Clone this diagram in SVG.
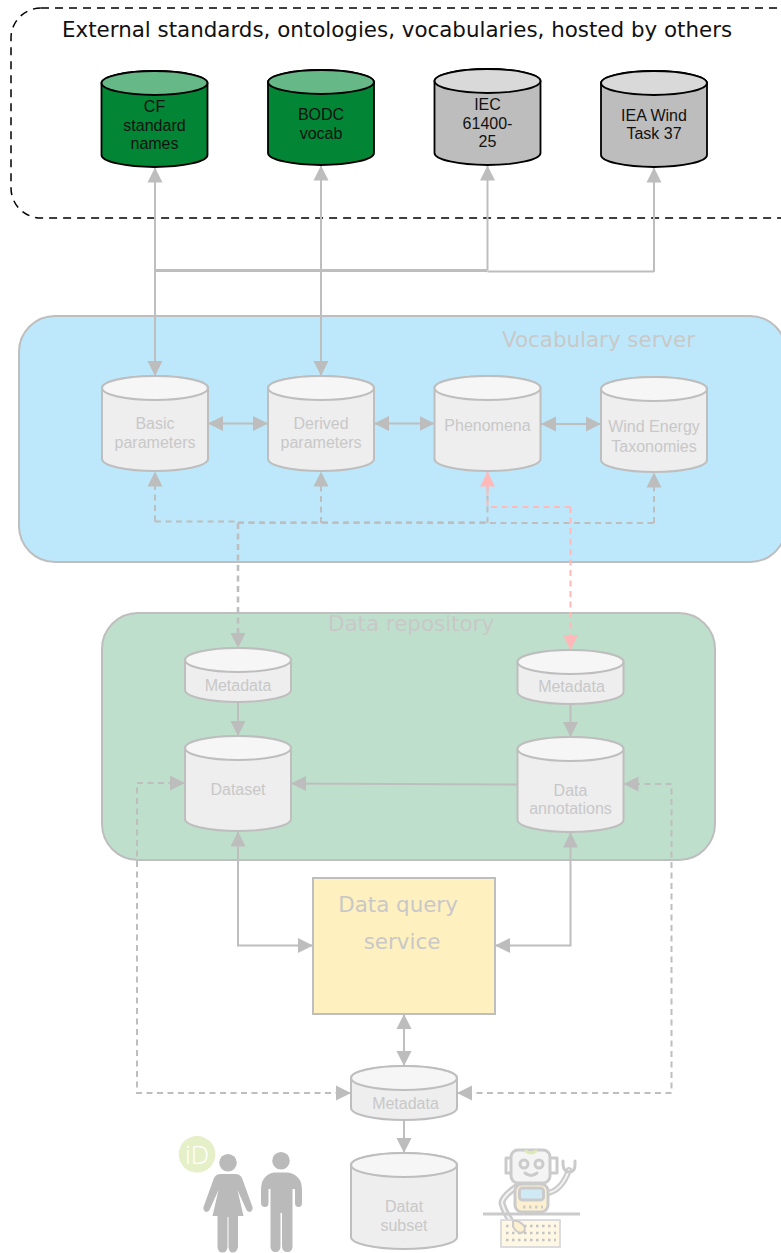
<svg xmlns="http://www.w3.org/2000/svg" width="781" height="1253" viewBox="0 0 781 1253">
<style>
.sv{font-family:"DejaVu Sans",sans-serif;font-size:21.4px}
.lb{font-family:"Liberation Sans",Arial,sans-serif;font-size:16px;text-anchor:middle}
.ink{fill:#111}.dim{fill:#c8c8c8}
.g{fill:#028535;stroke:#000;stroke-width:1.800}.gt{fill:#66b886;stroke:#000;stroke-width:1.800}
.k{fill:#bdbdbd;stroke:#000;stroke-width:1.800}.kt{fill:#d9d9d9;stroke:#000;stroke-width:1.800}
.w{fill:#eee;stroke:#bebebe;stroke-width:2}.wt{fill:#f6f6f6;stroke:#bebebe;stroke-width:2}
.c{fill:none;stroke:#bebebe;stroke-width:2}
.d{stroke-dasharray:6 4.500}
.p{stroke:#ffb9b9}
.h{marker-end:url(#a)}.hh{marker-start:url(#a);marker-end:url(#a)}
.ph{marker-end:url(#ap)}
</style>
<defs>
<marker id="a" markerUnits="userSpaceOnUse" markerWidth="16" markerHeight="16" refX="15" refY="8" orient="auto-start-reverse"><path d="M0 .5L15 8L0 15.500Z" fill="#bdbdbd"/></marker>
<marker id="ap" markerUnits="userSpaceOnUse" markerWidth="16" markerHeight="16" refX="15" refY="8" orient="auto-start-reverse"><path d="M0 .5L15 8L0 15.500Z" fill="#ffb9b9"/></marker>
</defs>
<g id="external-group"><rect x="11" y="8" width="800" height="210" rx="30" fill="#fff" stroke="#000" stroke-width="1.500" stroke-dasharray="8 6"/>
<text class="sv ink" x="62" y="37">External standards, ontologies, vocabularies, hosted by others</text></g>
<g id="vocabulary-server"><rect x="19" y="316" width="767" height="246" rx="36" fill="#bde8fb" stroke="#bebebe" stroke-width="2"/>
<text class="sv dim" x="502" y="347">Vocabulary server</text></g>
<g id="data-repository"><rect x="102" y="613" width="613" height="247" rx="36" fill="#bfdfcd" stroke="#bebebe" stroke-width="2"/>
<text class="sv dim" x="328" y="631">Data repository</text></g>
<g id="connectors">
<path class="c h" d="M155 270V167.500"/><path class="c h" d="M321 270V165.500"/><path class="c h" d="M487.500 270V165.500"/><path class="c h" d="M654 272V167.500"/>
<path class="c" style="stroke-width:3" d="M155 270.500H487.500"/><path class="c" d="M487.500 271.500H654"/>
<path class="c h" d="M155 270V376"/><path class="c h" d="M321 270V376"/>
<path class="c hh" d="M208 423.500H268"/><path class="c hh" d="M374 423.500H434.500"/><path class="c hh" d="M541 424H601"/>
<path class="c d h" d="M155 521.500V471.500"/><path class="c d" d="M155 521.500H238"/><path class="c d h" d="M321 523V471.500"/><path class="c d" d="M238 523H654"/><path class="c d" style="stroke-width:2.600" d="M238 522.500H487"/><path class="c d h" d="M654 523V472.500"/><path class="c d" d="M487.500 523V471.500"/>
<path class="c d h" style="stroke-width:2.600" d="M238 523V648"/>
<path class="c p d ph" d="M570.500 507V650"/><path class="c p d" d="M570.500 507H487.500V480"/><path class="c p ph" d="M487.500 490V471.500"/>
<path class="c h" d="M238 702V736"/><path class="c h" d="M570.500 704V737"/>
<path class="c h" d="M517.500 784.500L291 783.500"/>
<path class="c hh" d="M238 831.500V945.500H313"/><path class="c hh" d="M570.500 832.500V945.500H495"/>
<path class="c hh" d="M404 1014V1066"/><path class="c h" d="M404 1120V1153"/>
<path class="c d hh" d="M185 783H137V1093H351"/><path class="c d hh" d="M623.500 784H671.500V1093H457"/>
</g>
<g id="cf"><path class="g" d="M101.500 83A53 12 0 0 1 207.500 83V155A53 12 0 0 1 101.500 155Z"/><ellipse class="gt" cx="154.500" cy="83" rx="53" ry="12"/><text class="lb ink" x="154.500" y="112">CF</text><text class="lb ink" x="154.500" y="131">standard</text><text class="lb ink" x="154.500" y="149">names</text></g>
<g id="bodc"><path class="g" d="M268 82A53 12 0 0 1 374 82V153A53 12 0 0 1 268 153Z"/><ellipse class="gt" cx="321" cy="82" rx="53" ry="12"/><text class="lb ink" x="321" y="120">BODC</text><text class="lb ink" x="321" y="139">vocab</text></g>
<g id="iec"><path class="k" d="M434.500 81A53 12 0 0 1 540.500 81V153A53 12 0 0 1 434.500 153Z"/><ellipse class="kt" cx="487.500" cy="81" rx="53" ry="12"/><text class="lb ink" x="487.500" y="110">IEC</text><text class="lb ink" x="487.500" y="129">61400-</text><text class="lb ink" x="487.500" y="147">25</text></g>
<g id="iea"><path class="k" d="M601 83A53 12 0 0 1 707 83V155A53 12 0 0 1 601 155Z"/><ellipse class="kt" cx="654" cy="83" rx="53" ry="12"/><text class="lb ink" x="654" y="121">IEA Wind</text><text class="lb ink" x="654" y="139">Task 37</text></g>
<g id="basic"><path class="w" d="M102 388A53 12 0 0 1 208 388V459A53 12 0 0 1 102 459Z"/><ellipse class="wt" cx="155" cy="388" rx="53" ry="12"/><text class="lb dim" x="155" y="429">Basic</text><text class="lb dim" x="155" y="448">parameters</text></g>
<g id="derived"><path class="w" d="M268 388A53 12 0 0 1 374 388V459A53 12 0 0 1 268 459Z"/><ellipse class="wt" cx="321" cy="388" rx="53" ry="12"/><text class="lb dim" x="321" y="429">Derived</text><text class="lb dim" x="321" y="448">parameters</text></g>
<g id="phenomena"><path class="w" d="M434.500 388A53 12 0 0 1 540.500 388V459A53 12 0 0 1 434.500 459Z"/><ellipse class="wt" cx="487.500" cy="388" rx="53" ry="12"/><text class="lb dim" x="487.500" y="431">Phenomena</text></g>
<g id="wind"><path class="w" d="M601 389A53 12 0 0 1 707 389V460A53 12 0 0 1 601 460Z"/><ellipse class="wt" cx="654" cy="389" rx="53" ry="12"/><text class="lb dim" x="654" y="432">Wind Energy</text><text class="lb dim" x="654" y="452">Taxonomies</text></g>
<g id="metadata-left"><path class="w" d="M185 660A53 12 0 0 1 291 660V690A53 12 0 0 1 185 690Z"/><ellipse class="wt" cx="238" cy="660" rx="53" ry="12"/><text class="lb dim" x="238" y="691">Metadata</text></g>
<g id="metadata-right"><path class="w" d="M517.500 662A53 12 0 0 1 623.500 662V692A53 12 0 0 1 517.500 692Z"/><ellipse class="wt" cx="570.500" cy="662" rx="53" ry="12"/><text class="lb dim" x="571.500" y="692">Metadata</text></g>
<g id="dataset"><path class="w" d="M185 748A53 12 0 0 1 291 748V819A53 12 0 0 1 185 819Z"/><ellipse class="wt" cx="238" cy="748" rx="53" ry="12"/><text class="lb dim" x="238" y="795">Dataset</text></g>
<g id="annotations"><path class="w" d="M517.500 749A53 12 0 0 1 623.500 749V820A53 12 0 0 1 517.500 820Z"/><ellipse class="wt" cx="570.500" cy="749" rx="53" ry="12"/><text class="lb dim" x="570.500" y="796">Data</text><text class="lb dim" x="570.500" y="814">annotations</text></g>
<g id="query"><rect x="313" y="878" width="182" height="136" fill="#fff0c0" stroke="#bebebe" stroke-width="2"/><text class="sv dim" x="398" y="912" text-anchor="middle">Data query</text><text class="sv dim" x="402" y="949" text-anchor="middle">service</text></g>
<g id="metadata-bottom"><path class="w" d="M351 1078A53 12 0 0 1 457 1078V1108A53 12 0 0 1 351 1108Z"/><ellipse class="wt" cx="404" cy="1078" rx="53" ry="12"/><text class="lb dim" x="405.500" y="1109">Metadata</text></g>
<g id="subset"><path class="w" d="M351 1165A53 12 0 0 1 457 1165V1237A53 12 0 0 1 351 1237Z"/><ellipse class="wt" cx="404" cy="1165" rx="53" ry="12"/><text class="lb dim" x="404" y="1212">Datat</text><text class="lb dim" x="404" y="1231">subset</text></g>
<g id="people">
<circle cx="197" cy="1154.300" r="18.300" fill="#e6f0c8"/><text x="197" y="1164" font-family="'Open Sans',sans-serif" font-weight="300" font-size="26" fill="#fff" text-anchor="middle">iD</text>
<circle cx="228" cy="1162.700" r="8.800" fill="#bababa"/>
<path d="M221 1174H235Q240 1174 242 1178L252.500 1207Q253 1211 250 1212Q247.500 1212.500 246 1209L237.500 1190L243.500 1216H238V1247Q237 1252.500 232.500 1252.500Q229 1252.500 228.500 1247V1217H227.500V1247Q227 1252.500 222.500 1252.500Q218 1252.500 217.500 1247V1216H212.500L218.500 1190L210 1209Q208.500 1212.500 206 1212Q203 1211 203.500 1207L214 1178Q216 1174 221 1174Z" fill="#bababa"/>
<circle cx="281" cy="1160.700" r="8.800" fill="#bababa"/>
<path d="M274 1172.500H288Q302 1175 302 1190V1203Q302 1207 298.500 1207Q295 1207 295 1203V1189H292.500V1247Q292 1252 287.500 1252Q282.500 1252 282 1247V1213H280.500V1247Q280 1252 275.500 1252Q271 1252 270.500 1247V1189H268.500V1203Q268.500 1207 265 1207Q261 1207 261 1203V1190Q261 1175 274 1172.500Z" fill="#bababa"/>
</g>
<g id="robot" fill="none" stroke="#cbcbcb" stroke-width="3" stroke-linecap="round" stroke-linejoin="round">
<path d="M511 1158H506V1173H511M550 1158H557V1173H550"/>
<rect x="511" y="1150" width="39" height="33" rx="7" fill="#f4f4f4"/>
<path d="M526 1151Q531 1155 536 1151" stroke="#dbe8b8"/>
<circle cx="524" cy="1164" r="4"/><circle cx="539" cy="1164" r="4"/><path d="M525 1173Q531 1178 537 1173"/>
<path d="M548 1193Q562 1190 569 1170" stroke-width="6"/><path d="M548 1193Q562 1190 569 1170" stroke="#f4f4f4" stroke-width="2"/>
<path d="M563 1161V1165Q564 1172 569 1172Q575 1172 575 1165V1161"/>
<path d="M516 1187Q502 1197 502 1203Q504 1212 513 1224" stroke-width="7"/><path d="M516 1187Q502 1197 502 1203Q504 1212 513 1224" stroke="#f4f4f4" stroke-width="2"/>
<rect x="515" y="1184" width="33" height="28" rx="7" fill="#fdf0d0"/><rect x="519.500" y="1188" width="24" height="12" rx="3" fill="#cfeaf5"/>
<path d="M523 1207H543" stroke-dasharray="2.500 3.500" stroke-linecap="butt"/>
<path d="M483 1214H580" stroke-linecap="butt"/>
<rect x="501" y="1220" width="59" height="27" fill="#fdf7e3" stroke="#dcdcdc" stroke-width="2"/>
<path d="M506 1226H556M506 1233H556M506 1240H556" stroke-dasharray="2.500 3.500" stroke="#c4c4c4" stroke-width="2.500" stroke-linecap="butt"/>
<path d="M513 1221Q519 1220 524 1226Q527 1231 521 1233Q515 1232 513 1226Z" fill="#fdf0d0" stroke-width="2"/>
</g>
</svg>
